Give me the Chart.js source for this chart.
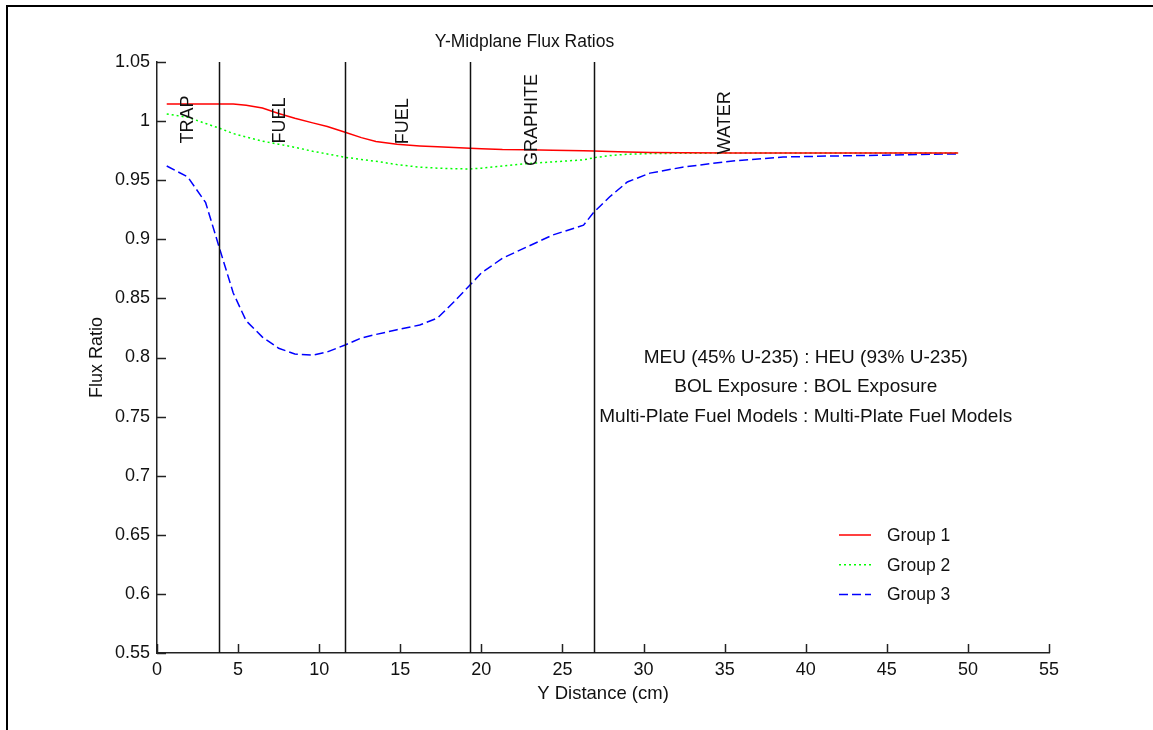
<!DOCTYPE html>
<html lang="en">
<head>
  <meta charset="UTF-8">
  <title>Y-Midplane Flux Ratios</title>
  <script src="https://cdn.jsdelivr.net/npm/chart.js"></script>
  <style>
    html, body {
      margin: 0;
      padding: 0;
      background-color: #ffffff;
      overflow: hidden;
    }
    .frame {
      position: fixed;
      left: 6px;
      top: 5px;
      right: 0;
      bottom: 0;
      border-left: 2px solid #000000;
      border-top: 2px solid #000000;
    }
    #fluxChart {
      position: absolute;
      left: 0;
      top: 0;
    }
  </style>
</head>
<body>
  <div class="frame"></div>
  <canvas id="fluxChart" width="1153" height="730"></canvas>

  <script>
    // Y distance (cm) where the curves were read
    const distance = [0.6, 1.9, 3.0, 3.84, 4.7, 5.5, 6.5, 7.5, 8.5, 9.6, 10.5, 11.6, 12.6, 13.5, 14.8, 16.2, 17.3, 18.3,
      19.3, 20.0, 21.3, 22.8, 24.4, 26.3, 26.94, 27.9, 29.0, 30.4, 32.4, 35.5, 38.6, 41.7, 44.8, 47.8, 49.4];

    const group1 = [1.0145, 1.0145, 1.0145, 1.0145, 1.0145, 1.0135, 1.011, 1.0065, 1.0024, 0.9985, 0.9955, 0.9905,
      0.986, 0.9828, 0.9804, 0.979, 0.9782, 0.9776, 0.977, 0.9767, 0.976, 0.9757, 0.9753, 0.975, 0.9748, 0.9742,
      0.9738, 0.9735, 0.9733, 0.973, 0.973, 0.973, 0.973, 0.973, 0.973];

    const group2 = [1.006, 1.0032, 0.998, 0.994, 0.9895, 0.9865, 0.983, 0.9805, 0.9778, 0.9745, 0.9722, 0.9694,
      0.9675, 0.966, 0.9632, 0.961, 0.9602, 0.9597, 0.9595, 0.9602, 0.962, 0.964, 0.9655, 0.9672, 0.969, 0.9708,
      0.972, 0.9725, 0.9728, 0.973, 0.973, 0.973, 0.973, 0.973, 0.973];

    const group3 = [0.962, 0.9527, 0.931, 0.893, 0.8546, 0.831, 0.8173, 0.8078, 0.803, 0.802, 0.8047, 0.8106,
      0.8165, 0.8195, 0.8235, 0.8275, 0.8334, 0.847, 0.8613, 0.8715, 0.884, 0.8935, 0.9036, 0.912, 0.923, 0.9358,
      0.9485, 0.956, 0.961, 0.9663, 0.9696, 0.9705, 0.9712, 0.972, 0.9722];

    // region boundaries and their labels
    const boundaries = [3.84, 11.57, 19.3, 26.94];
    const regionNames = ["TRAP", "FUEL", "FUEL", "GRAPHITE", "WATER"];
    const regionX = [1.9, 7.6, 15.2, 23.1, 35.0];
    const regionY = [0.981, 0.981, 0.9805, 0.962, 0.972];

    // case description text
    const noteLines = ["MEU (45% U-235) : HEU (93% U-235)", "BOL Exposure : BOL Exposure",
      "Multi-Plate Fuel Models : Multi-Plate Fuel Models"];
    const noteX = 40;
    const noteY = [0.8, 0.775, 0.75];

    const FONT = "'Liberation Sans', Arial, sans-serif";

    function toPoints(ys) {
      return distance.map((x, i) => ({ x: x, y: ys[i] }));
    }

    // draws boundaries, region names, notes, inward ticks and the legend
    const extrasPlugin = {
      id: "extras",
      afterDatasetsDraw(chart) {
        const ctx = chart.ctx;
        const xs = chart.scales.x;
        const ys = chart.scales.y;
        const area = chart.chartArea;

        ctx.save();
        ctx.strokeStyle = "#111111";
        ctx.lineWidth = 1.5;
        boundaries.forEach(b => {
          const px = Math.round(xs.getPixelForValue(b)) + 0.5;
          ctx.beginPath();
          ctx.moveTo(px, area.top);
          ctx.lineTo(px, area.bottom);
          ctx.stroke();
        });

        ctx.fillStyle = "#111111";
        ctx.font = "18px " + FONT;
        ctx.textAlign = "left";
        ctx.textBaseline = "middle";
        regionNames.forEach((name, i) => {
          ctx.save();
          ctx.translate(xs.getPixelForValue(regionX[i]), ys.getPixelForValue(regionY[i]));
          ctx.rotate(-Math.PI / 2);
          ctx.fillText(name, 0, 0);
          ctx.restore();
        });

        ctx.font = "19px " + FONT;
        ctx.textAlign = "center";
        noteLines.forEach((line, i) => {
          ctx.fillText(line, xs.getPixelForValue(noteX), ys.getPixelForValue(noteY[i]));
        });
        ctx.restore();
      },
      afterDraw(chart) {
        const ctx = chart.ctx;
        const xs = chart.scales.x;
        const ys = chart.scales.y;
        const area = chart.chartArea;

        // MATLAB style ticks pointing into the plot
        ctx.save();
        ctx.strokeStyle = "#222222";
        ctx.lineWidth = 1.5;
        xs.ticks.forEach(t => {
          const px = Math.round(xs.getPixelForValue(t.value)) + 0.5;
          ctx.beginPath();
          ctx.moveTo(px, area.bottom);
          ctx.lineTo(px, area.bottom - 9);
          ctx.stroke();
        });
        ys.ticks.forEach(t => {
          const py = Math.round(ys.getPixelForValue(t.value)) + 0.5;
          ctx.beginPath();
          ctx.moveTo(area.left, py);
          ctx.lineTo(area.left + 9, py);
          ctx.stroke();
        });

        // legend without a box
        ctx.font = "17.5px " + FONT;
        ctx.textAlign = "left";
        ctx.textBaseline = "middle";
        chart.data.datasets.forEach((ds, i) => {
          const y = 535 + i * 29.7;
          ctx.strokeStyle = ds.borderColor;
          ctx.lineWidth = ds.borderWidth;
          ctx.setLineDash(ds.borderDash || []);
          ctx.beginPath();
          ctx.moveTo(839, y);
          ctx.lineTo(871, y);
          ctx.stroke();
          ctx.setLineDash([]);
          ctx.fillStyle = "#111111";
          ctx.fillText(ds.label, 887, y + 1);
        });
        ctx.restore();
      }
    };

    Chart.defaults.font.family = FONT;
    Chart.defaults.color = "#111111";

    const ctx = document.getElementById("fluxChart").getContext("2d");
    new Chart(ctx, {
      type: "line",
      data: {
        datasets: [
          { label: "Group 1", data: toPoints(group1), borderColor: "#ff0000", borderWidth: 1.5, borderDash: [], pointRadius: 0, tension: 0 },
          { label: "Group 2", data: toPoints(group2), borderColor: "#00ff00", borderWidth: 1.5, borderDash: [2, 3], pointRadius: 0, tension: 0 },
          { label: "Group 3", data: toPoints(group3), borderColor: "#0000ff", borderWidth: 1.5, borderDash: [9, 4], pointRadius: 0, tension: 0 }
        ]
      },
      options: {
        responsive: false,
        animation: false,
        layout: { padding: { left: 0, right: 104, top: 0, bottom: 0 } },
        plugins: {
          legend: { display: false },
          tooltip: { enabled: false },
          title: {
            display: true,
            text: "Y-Midplane Flux Ratios",
            color: "#111111",
            font: { size: 17.5, weight: "normal" },
            padding: { top: 31.5, bottom: 9.5 }
          }
        },
        scales: {
          x: {
            type: "linear",
            min: 0,
            max: 55,
            grid: { display: false, drawTicks: false },
            border: { display: true, color: "#222222", width: 1.5 },
            ticks: { stepSize: 5, padding: 6, color: "#111111", font: { size: 18 }, maxRotation: 0 },
            title: {
              display: true,
              text: "Y Distance (cm)",
              color: "#111111",
              font: { size: 18.5 },
              padding: { top: 0, bottom: 25 }
            },
            afterFit(scale) { scale.height = 77; }
          },
          y: {
            min: 0.55,
            max: 1.05,
            grid: { display: false, drawTicks: false },
            border: { display: true, color: "#222222", width: 1.5 },
            ticks: {
              stepSize: 0.05,
              padding: 7,
              color: "#111111",
              font: { size: 18 },
              callback: v => String(parseFloat(Number(v).toFixed(2)))
            },
            title: {
              display: true,
              text: "Flux Ratio",
              color: "#111111",
              font: { size: 18 },
              padding: { top: 86, bottom: 0 }
            },
            afterFit(scale) { scale.width = 157; }
          }
        }
      },
      plugins: [extrasPlugin]
    });
  </script>
</body>
</html>
